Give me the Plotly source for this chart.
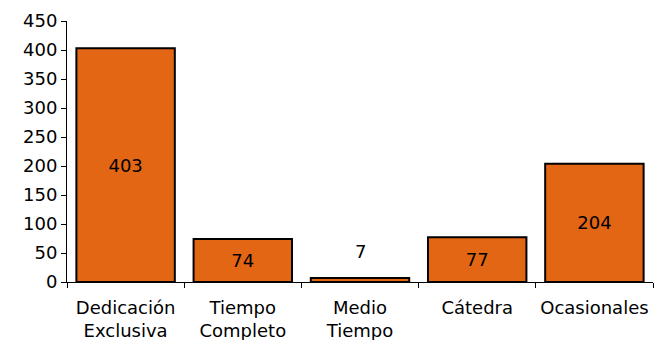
import plotly.graph_objects as go

categories = ["Dedicación<br>Exclusiva", "Tiempo<br>Completo", "Medio<br>Tiempo", "Cátedra", "Ocasionales"]
values = [403, 74, 7, 77, 204]
y_ticks = [0, 50, 100, 150, 200, 250, 300, 350, 400, 450]

FONT = "DejaVu Sans, Arial"
inside_text = [str(v) if v > 20 else "" for v in values]

fig = go.Figure(go.Bar(
    x=categories, y=values,
    text=inside_text,
    textposition="inside",
    insidetextanchor="middle",
    textfont=dict(color="black", size=18, family=FONT),
    marker=dict(color="#E36614", line=dict(color="black", width=2)),
    cliponaxis=False,
))
for c, v in zip(categories, values):
    if v <= 20:
        fig.add_annotation(x=c, y=v, text=str(v), showarrow=False, yanchor="bottom",
                           yshift=14, font=dict(color="black", size=18, family=FONT))
fig.update_layout(
    width=656, height=340,
    margin=dict(l=67, r=3, t=21, b=58),
    paper_bgcolor="white", plot_bgcolor="white",
    font=dict(family=FONT, size=18, color="black"),
    bargap=0.16,
    showlegend=False,
    uniformtext=dict(mode=False),
)
fig.update_yaxes(range=[0, 450], tickvals=y_ticks, showgrid=False, showline=True,
                 linecolor="black", linewidth=1, ticks="outside", ticklen=5,
                 tickcolor="black", zeroline=False, automargin=False)
fig.update_xaxes(showgrid=False, showline=True, linecolor="black", linewidth=1,
                 ticks="outside", tickson="boundaries", ticklen=5, tickcolor="black",
                 tickangle=0, ticklabelstandoff=9, automargin=False)
fig.write_html("out.html", config={"displayModeBar": False},
               post_script="document.body.style.margin='0';")
